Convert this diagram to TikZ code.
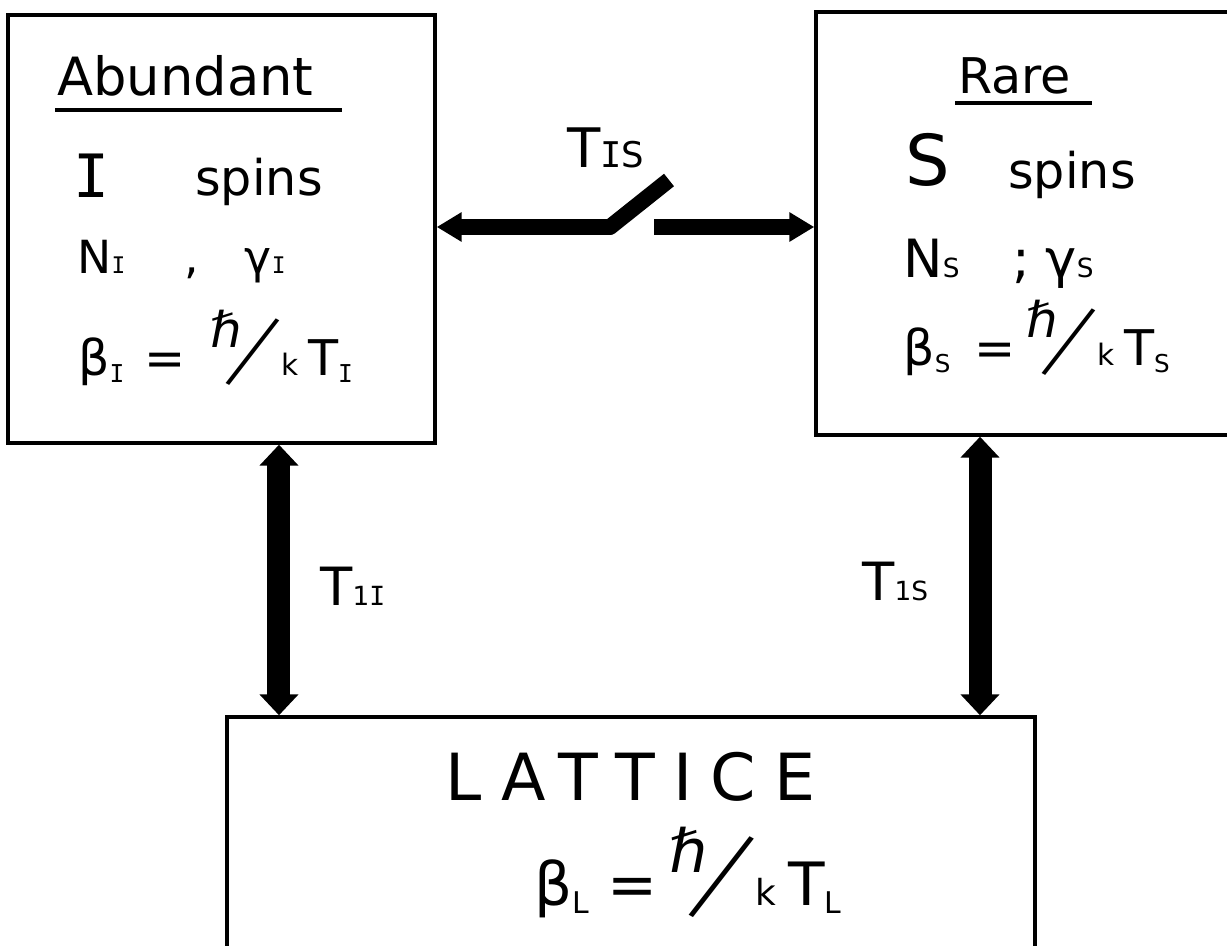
\documentclass[tikz,border=0pt]{standalone}
\usepackage{fontspec}
\setmainfont{DejaVu Sans}
\newfontfamily\barfont{DejaVu Sans Mono}
\usepackage{graphicx}
\usetikzlibrary{arrows.meta, positioning}

\newcommand{\barI}{{\barfont I}}
\newcommand{\low}[2][0.5]{\scalebox{#1}{#2}}
\newcommand{\dlow}[2][0.5]{\raisebox{-0.15em}{\scalebox{#1}{#2}}}
\newcommand{\hk}{\raisebox{0.55em}{ℏ}\kern-0.3em\rotatebox{-29}{\scalebox{1}[2]{/}}\kern0.02em\scalebox{0.6}{k}\hspace{0.2em}}

\begin{document}
\begin{tikzpicture}[x=0.02cm, y=-0.02cm,
    box/.style={draw, line width=2pt, inner sep=0pt},
    ul/.style={line width=2pt},
    txt/.style={anchor=base west, inner sep=0pt},
    bar/.style={line width=0.46cm, {Triangle[width=0.76cm,length=0.42cm]}-{Triangle[width=0.76cm,length=0.42cm]}},
    link/.style={line width=0.32cm, -{Triangle[width=0.56cm,length=0.5cm]}}
  ]
  \useasboundingbox (0,0) rectangle (1227,946);

  \node[box, minimum width=8.54cm, minimum height=8.56cm] (ibath) at (221.5,229) {};
  \node[box, minimum width=8.8cm, minimum height=8.46cm] (sbath) at (1036,223.5) {};
  \node[box, minimum width=16.16cm, minimum height=4.96cm] (lat) at (631,841) {};

  % abundant spins
  \node[txt, font=\fontsize{30}{33}\selectfont] (abund) at (57,95) {Abundant};
  \draw[ul] ([xshift=-0.04cm,yshift=-0.3cm]abund.base west) -- ++(287,0);
  \node[txt, font=\fontsize{34}{38}\selectfont\barfont] (iname) at (73,197) {I};
  \node[txt, font=\fontsize{28}{32}\selectfont] (ispins) at (195,195) {spins};
  \node[txt, font=\fontsize{26}{30}\selectfont] (inum) at (77,273) {N\low{\barI}\hspace{1.3em},\hspace{1em}γ\low{\barI}};
  \node[txt, font=\fontsize{28}{32}\selectfont] (ibeta) at (78,375) {β\dlow{\barI}\hspace{0.4em}=\hspace{0.5em}\hk T\dlow{\barI}};

  % rare spins
  \node[txt, font=\fontsize{28}{31}\selectfont] (rare) at (958,93) {Rare};
  \draw[ul] ([xshift=-0.06cm,yshift=-0.2cm]rare.base west) -- ++(137,0);
  \node[txt, font=\fontsize{40}{44}\selectfont] (sname) at (905,185) {S};
  \node[txt, font=\fontsize{28}{32}\selectfont] (sspins) at (1008,188) {spins};
  \node[txt, font=\fontsize{30}{34}\selectfont] (snum) at (903,277) {N\low{S}\hspace{1em};\hspace{0.3em}γ\low{S}};
  \node[txt, font=\fontsize{28}{32}\selectfont] (sbeta) at (903,365) {β\dlow{S}\hspace{0.5em}=\hspace{0.2em}\hk T\dlow{S}};

  % lattice
  \node[txt, font=\fontsize{37}{40}\selectfont\addfontfeature{LetterSpace=28}] (latname) at (445,800) {LATTICE};
  \node[txt, font=\fontsize{34}{38}\selectfont] (lbeta) at (534,905) {β\dlow{L}\hspace{0.3em}=\hspace{0.2em}\hk T\dlow{L}};

  % cross relaxation switch
  \coordinate (pivot) at (610,227);
  \coordinate (blade) at (669,180);
  \coordinate (contact) at (654,227);
  \draw[link, line join=round] (blade) -- (pivot) -- (pivot -| ibath.east);
  \draw[link] (contact) -- (contact -| sbath.west);
  \node[txt, font=\fontsize{31}{34}\selectfont] (tis) at (567,167) {T\low[0.65]{\barI S}};

  % spin-lattice relaxation
  \draw[bar] ([xshift=1.15cm]ibath.south) -- ([xshift=1.15cm]ibath.south |- lat.north);
  \draw[bar] ([xshift=-1.12cm]sbath.south) -- ([xshift=-1.12cm]sbath.south |- lat.north);
  \node[txt, font=\fontsize{30}{34}\selectfont] (tonei) at (320,605) {T\low{1\barI}};
  \node[txt, font=\fontsize{30}{34}\selectfont] (tones) at (862,600) {T\low{1S}};
\end{tikzpicture}
\end{document}
